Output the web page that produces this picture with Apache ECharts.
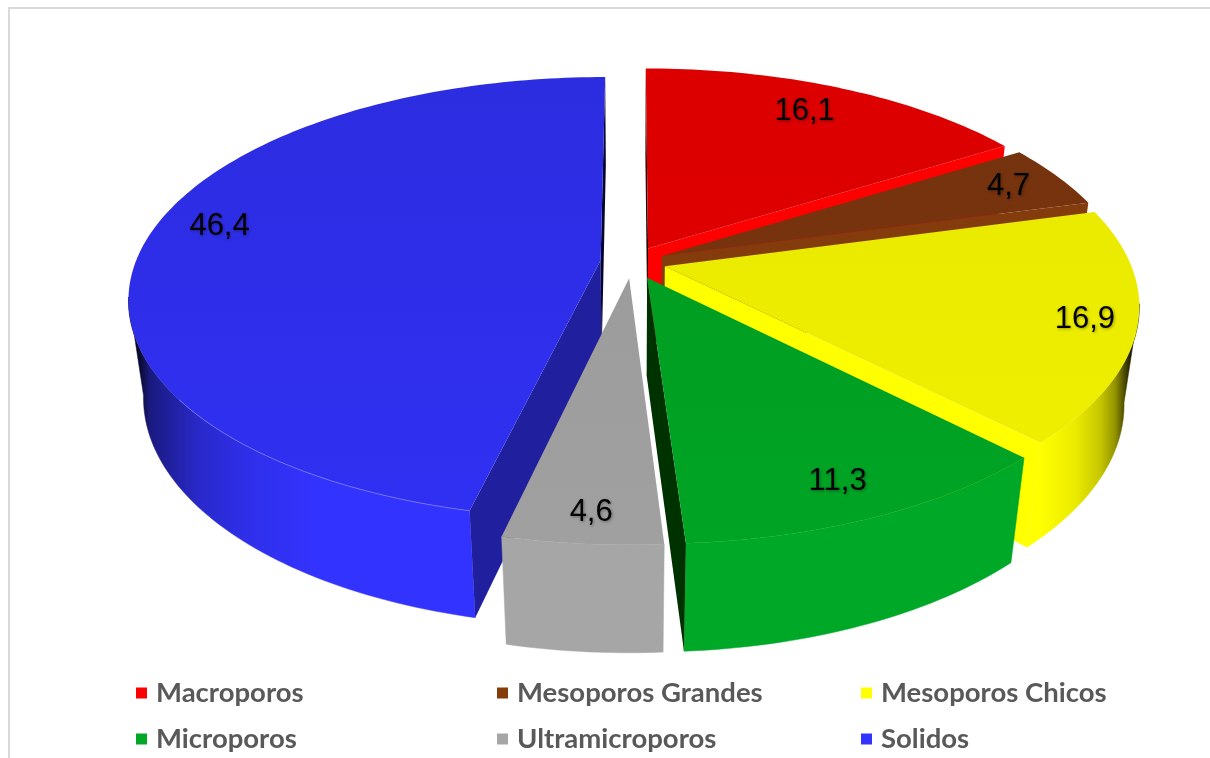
<!DOCTYPE html>
<html><head><meta charset="utf-8">
<style>html,body{margin:0;padding:0;background:#fff}#c{width:1210px;height:758px}</style>
<script src="https://cdn.jsdelivr.net/npm/echarts@6/dist/echarts.min.js"></script>
</head><body><div id="c"></div>
<script>
const categories = ['Macroporos','Mesoporos Grandes','Mesoporos Chicos','Microporos','Ultramicroporos','Solidos'];
const values = [16.1, 4.7, 16.9, 11.3, 4.6, 46.4];
const baseColors = ['#ff0000','#843c0c','#ffff00','#00a828','#a6a6a6','#3333ff'];
const topBack = ['#dc0000','#74320e','#e8e800','#009a20','#999999','#2c2ce0'];
const topFront = ['#e20000','#7a350e','#f0f000','#00a424','#a0a0a0','#3030f4'];
const cutStart = ['#200000',null,null,null,null,'#20209f'];
const cutEnd = ['#ff0000','#843c0c','#ffff00','#003200',null,'#050530'];
const labelRadius = [0.83,0.87,0.893,0.87,0.90,0.86];
const labelTurn = [-1.2,0,0,0.6,-0.4,4.3];
const explodeBy = [0.072,0.07,0.073,0.079,0.075,0.068];
const paintOrder = [0,1,2,5,3,4];
const view = {cx:632, cy:262, a:465, b:215, h:100, p:0.17, q:0.03};
const total = values.reduce((s,v)=>s+v,0);
function project(X,Y,Z){
  const s = 1/(1 - view.p*Y + view.q*Z);
  return [view.cx + view.a*X*s, view.cy + (view.b*Y + view.h*Z)*s];
}
function mix(hex,k){
  const n = parseInt(hex.slice(1),16);
  return 'rgb('+[n>>16&255,n>>8&255,n&255].map(c=>Math.round(c*k)).join(',')+')';
}
const shadeLeft = 128, shadeRight = 1140;
const wallShade = [[128,.05],[140,.2],[150,.5],[200,.8],[250,.92],[320,1],[1040,1],[1075,.92],[1100,.78],[1115,.58],[1125,.28],[1132,.08],[1140,.05]];
function renderSlice(params, api){
  const idx = categories.indexOf(params.seriesName);
  const v = api.value(0);
  let before = 0; for(let k=0;k<idx;k++) before += values[k];
  const t1 = before/total*2*Math.PI, t2 = (before+v)/total*2*Math.PI, tm=(t1+t2)/2;
  const e = explodeBy[idx];
  const ox = e*Math.sin(tm), oy = -e*Math.cos(tm);
  const rim = (t,r)=>[ox + r*Math.sin(t), oy - r*Math.cos(t)];
  const n = Math.max(12, Math.ceil((t2-t1)*50));
  const ts = []; for(let k=0;k<=n;k++) ts.push(t1+(t2-t1)*k/n);
  const children = [];
  // outer wall
  const front = ts.filter(t=>-Math.cos(t) > 0.15);
  if(front.length>1){
    const a = front.map(t=>{const p=rim(t,1);return project(p[0],p[1],0)});
    const b = front.slice().reverse().map(t=>{const p=rim(t,1);return project(p[0],p[1],1)});
    const fill = new echarts.graphic.LinearGradient(shadeLeft,0,shadeRight,0,
      wallShade.map(s=>({offset:(s[0]-shadeLeft)/(shadeRight-shadeLeft),color:mix(baseColors[idx],s[1])})),true);
    children.push({type:'polygon',shape:{points:a.concat(b)},style:{fill:fill,stroke:fill,lineWidth:.5}});
  }
  // cut walls
  [[t1,cutStart[idx]],[t2,cutEnd[idx]]].forEach(w=>{
    if(!w[1]) return;
    const p=rim(w[0],1);
    const pts=[project(ox,oy,0),project(p[0],p[1],0),project(p[0],p[1],1),project(ox,oy,1)];
    children.push({type:'polygon',shape:{points:pts},style:{fill:w[1]}});
  });
  // top face
  const top=[project(ox,oy,0)].concat(ts.map(t=>{const p=rim(t,1);return project(p[0],p[1],0)}));
  children.push({type:'polygon',shape:{points:top},style:{
    fill:new echarts.graphic.LinearGradient(0,70,0,540,[{offset:0,color:topBack[idx]},{offset:1,color:topFront[idx]}],true)}});
  // faint highlight along the front rim of the largest slice
  if(v===Math.max.apply(null,values)){
    const glow = ts.filter(t=>t<t1+0.25*(t2-t1)).map(t=>{const p=rim(t,1);return project(p[0],p[1],0)});
    children.push({type:'polyline',shape:{points:glow},style:{stroke:'rgba(150,150,255,.55)',lineWidth:1,fill:null}});
  }
  // label
  const lt = tm + labelTurn[idx]*Math.PI/180;
  const q = rim(lt,labelRadius[idx]);
  const lp = project(q[0],q[1],0);
  children.push({type:'text',style:{x:lp[0],y:lp[1],text:v.toFixed(1).replace('.',','),
    font:'31px "Liberation Sans"',fill:'#000',align:'center',verticalAlign:'middle',
    textShadowColor:'rgba(0,0,0,.35)',textShadowBlur:3,textShadowOffsetX:1,textShadowOffsetY:1}});
  return {type:'group',children};
}
const series = paintOrder.map((idx,o)=>({
  type:'custom',name:categories[idx],coordinateSystem:'none',z:2+o,silent:true,
  itemStyle:{color:baseColors[idx]},data:[[values[idx]]],renderItem:renderSlice
}));
const legendCol = (names,left)=>({
  data:names,left,top:678,orient:'vertical',itemWidth:11,itemHeight:11,itemGap:16,padding:0,
  icon:'rect',selectedMode:false,
  textStyle:{fontFamily:'Lato',fontWeight:'bold',fontSize:27.5,color:'#595959',lineHeight:30,padding:[0,0,0,4]}
});
const chart = echarts.init(document.getElementById('c'),null,{renderer:'canvas'});
chart.setOption({
  animation:false,backgroundColor:'#fff',
  legend:[legendCol([categories[0],categories[3]],136),legendCol([categories[1],categories[4]],497),legendCol([categories[2],categories[5]],861)],
  graphic:[{type:'polyline',silent:true,shape:{points:[[9,760],[9,8],[1212,8]]},style:{stroke:'#d9d9d9',lineWidth:2,fill:null}}],
  series
});
</script></body></html>
